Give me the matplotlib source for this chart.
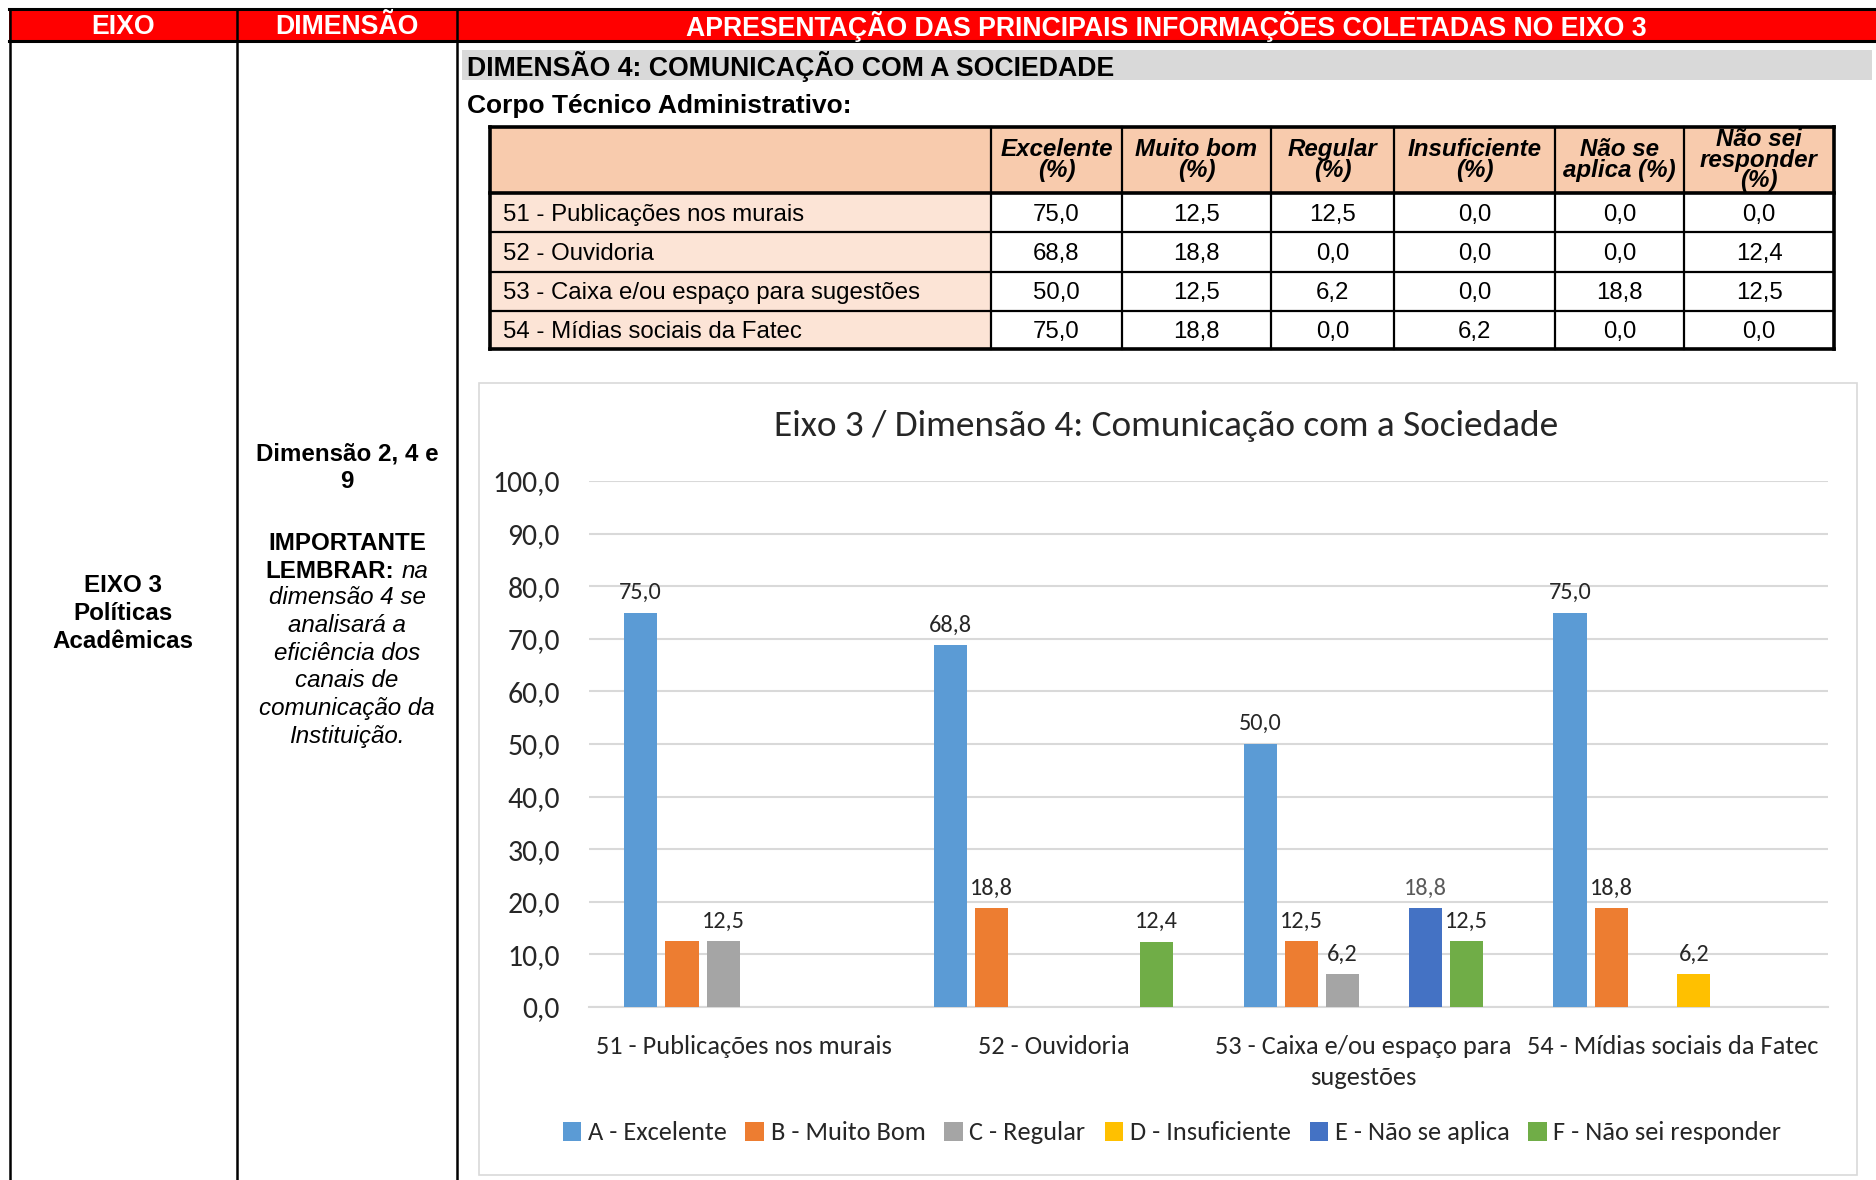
import matplotlib
matplotlib.use("Agg")
import matplotlib.pyplot as plt
from matplotlib.patches import Rectangle
from matplotlib.lines import Line2D
import numpy as np

# ---------------- data ----------------
categories = ["51 - Publicações nos murais", "52 - Ouvidoria",
              "53 - Caixa e/ou espaço para sugestões", "54 - Mídias sociais da Fatec"]
cat_tick_labels = ["51 - Publicações nos murais", "52 - Ouvidoria",
                   "53 - Caixa e/ou espaço para\nsugestões", "54 - Mídias sociais da Fatec"]
series_names = ["A - Excelente", "B - Muito Bom", "C - Regular", "D - Insuficiente",
                "E - Não se aplica", "F - Não sei responder"]
table_headers = ["Excelente\n(%)", "Muito bom\n(%)", "Regular\n(%)", "Insuficiente\n(%)",
                 "Não se\naplica (%)", "Não sei\nresponder\n(%)"]
excelente = [75.0, 68.8, 50.0, 75.0]
muito_bom = [12.5, 18.8, 12.5, 18.8]
regular = [12.5, 0.0, 6.2, 0.0]
insuficiente = [0.0, 0.0, 0.0, 6.2]
nao_se_aplica = [0.0, 0.0, 18.8, 0.0]
nao_sei = [0.0, 12.4, 12.5, 0.0]
series = [excelente, muito_bom, regular, insuficiente, nao_se_aplica, nao_sei]
# data labels removed in the original chart (series index, category index)
hidden_labels = [(1, 0)]
yticks = [0, 10, 20, 30, 40, 50, 60, 70, 80, 90, 100]

colors = ["#5B9BD5", "#ED7D31", "#A5A5A5", "#FFC000", "#4472C4", "#70AD47"]
label_colors = ["#262626", "#262626", "#262626", "#262626", "#595959", "#262626"]

W, H = 1876, 1180
fig = plt.figure(figsize=(W / 100, H / 100), dpi=100)
bg = fig.add_axes([0, 0, 1, 1])
bg.set_xlim(0, W)
bg.set_ylim(H, 0)
bg.axis("off")

ARIAL = ["Liberation Sans", "DejaVu Sans"]
CAL = ["Carlito", "Lato", "DejaVu Sans"]

# ---------------- header ----------------
bg.add_patch(Rectangle((9, 9), W - 9, 32, facecolor="#FF0000", edgecolor="none", zorder=1))
for y in (9, 41):
    bg.add_line(Line2D([9, W], [y, y], color="black", lw=2.2, zorder=3))
for x in (10, 237, 457):
    bg.add_line(Line2D([x, x], [9, H], color="black", lw=1.8, zorder=3))
for txt, cx in (("EIXO", 123), ("DIMENSÃO", 347),
                ("APRESENTAÇÃO DAS PRINCIPAIS INFORMAÇÕES COLETADAS NO EIXO 3", 1166)):
    bg.text(cx, 27, txt, ha="center", va="center", color="white", fontsize=19.2,
            fontweight="bold", family=ARIAL, zorder=4)

# left columns
FS = 17.4
for i, line in enumerate(["EIXO 3", "Políticas", "Acadêmicas"]):
    bg.text(123, 586 + i * 27.5, line, ha="center", va="center", fontsize=FS,
            fontweight="bold", family=ARIAL)
bg.text(347, 454, "Dimensão 2, 4 e", ha="center", va="center", fontsize=FS,
        fontweight="bold", family=ARIAL)
bg.text(347, 481, "9", ha="center", va="center", fontsize=FS, fontweight="bold", family=ARIAL)
bg.text(347, 543, "IMPORTANTE", ha="center", va="center", fontsize=FS,
        fontweight="bold", family=ARIAL)
# mixed line
renderer = fig.canvas.get_renderer()
t1 = bg.text(0, 571, "LEMBRAR:", ha="left", va="center", fontsize=FS, fontweight="bold", family=ARIAL)
t2 = bg.text(0, 571, "na", ha="left", va="center", fontsize=FS, fontstyle="italic", family=ARIAL)
w1 = t1.get_window_extent(renderer).width
w2 = t2.get_window_extent(renderer).width
gap = 7
x0 = 347 - (w1 + gap + w2) / 2
t1.set_x(x0)
t2.set_x(x0 + w1 + gap)
for i, line in enumerate(["dimensão 4 se", "analisará a", "eficiência dos", "canais de",
                          "comunicação da", "Instituição."]):
    bg.text(347, 598 + i * 27.6, line, ha="center", va="center", fontsize=FS,
            fontstyle="italic", family=ARIAL)

# grey band
bg.add_patch(Rectangle((462, 50), 1410, 30, facecolor="#D9D9D9", edgecolor="none"))
bg.text(467, 66, "DIMENSÃO 4: COMUNICAÇÃO COM A SOCIEDADE", ha="left", va="center",
        fontsize=19.2, fontweight="bold", family=ARIAL)
bg.text(467, 106, "Corpo Técnico Administrativo:", ha="left", va="center",
        fontsize=19, fontweight="bold", family=ARIAL)

# ---------------- table ----------------
col_x = [490, 991, 1122, 1271, 1394, 1555, 1684, 1834]
row_y = [127, 193, 232, 272, 311, 349]
bg.add_patch(Rectangle((col_x[0], row_y[0]), col_x[-1] - col_x[0], row_y[1] - row_y[0],
                       facecolor="#F8CBAD", edgecolor="none"))
for r in range(4):
    bg.add_patch(Rectangle((col_x[0], row_y[r + 1]), col_x[1] - col_x[0],
                           row_y[r + 2] - row_y[r + 1], facecolor="#FCE4D6", edgecolor="none"))
for y in row_y:
    lw = 2.6 if y in (127, 193, 349) else 1.6
    bg.add_line(Line2D([col_x[0], col_x[-1]], [y, y], color="black", lw=lw, zorder=3))
for x in col_x:
    lw = 2.6 if x in (490, 1834) else 1.6
    bg.add_line(Line2D([x, x], [row_y[0], row_y[-1]], color="black", lw=lw, zorder=3))
for j, hd in enumerate(table_headers):
    cell = Rectangle((col_x[j + 1], row_y[0] + 1), col_x[j + 2] - col_x[j + 1],
                     row_y[1] - row_y[0] - 2, transform=bg.transData, fill=False, edgecolor="none")
    bg.add_patch(cell)
    cx = (col_x[j + 1] + col_x[j + 2]) / 2
    t = bg.text(cx, 160, hd, ha="center", va="center", fontsize=17.4, fontweight="bold",
                fontstyle="italic", family=ARIAL, linespacing=0.84, zorder=2)
    t.set_clip_path(cell)
for r in range(4):
    cy = (row_y[r + 1] + row_y[r + 2]) / 2 + 2
    bg.text(col_x[0] + 13, cy, categories[r], ha="left", va="center", fontsize=17.3, family=ARIAL)
    for j in range(6):
        cx = (col_x[j + 1] + col_x[j + 2]) / 2
        bg.text(cx, cy, f"{series[j][r]:.1f}".replace(".", ","), ha="center", va="center",
                fontsize=17.3, family=ARIAL)

# ---------------- chart ----------------
bg.add_patch(Rectangle((479, 383), 1857 - 479, 1175 - 383, facecolor="none",
                       edgecolor="#D9D9D9", lw=1.2))
bg.text(1166, 426, "Eixo 3 / Dimensão 4: Comunicação com a Sociedade", ha="center",
        va="center", fontsize=26.8, family=CAL, color="#262626")

L, R, T, B = 589, 1828, 481, 1007
ax = fig.add_axes([L / W, 1 - B / H, (R - L) / W, (B - T) / H])
x = np.arange(len(categories))
step, width = 0.1332, 0.108
for i, (vals, c) in enumerate(zip(series, colors)):
    pos = x + (i - 2.5) * step
    ax.bar(pos, vals, width, color=c, zorder=3, label=series_names[i])
    for k, v in enumerate(vals):
        if v > 0 and (i, k) not in hidden_labels:
            ax.annotate(f"{v:.1f}".replace(".", ","), (pos[k], v), xytext=(0, 7),
                        textcoords="offset points", ha="center", va="bottom",
                        fontsize=17.5, family=CAL, color=label_colors[i], zorder=4)
ax.set_xlim(-0.5, 3.5)
ax.set_ylim(0, 100)
ax.set_yticks(yticks)
ax.set_yticklabels([f"{v:.1f}".replace(".", ",") for v in yticks], family=CAL,
                   fontsize=21.4, color="#262626")
ax.grid(axis="y", color="#D9D9D9", lw=1.5, zorder=0)
ax.set_xticks(x)
ax.set_xticklabels(cat_tick_labels, family=CAL, fontsize=19, color="#262626",
                   linespacing=1.42)
ax.tick_params(axis="both", length=0)
ax.tick_params(axis="y", pad=21)
ax.tick_params(axis="x", pad=20)
for s in ("top", "right", "left"):
    ax.spines[s].set_visible(False)
ax.spines["bottom"].set_color("#D9D9D9")
ax.spines["bottom"].set_linewidth(1.5)
ax.set_facecolor("none")

handles = [Rectangle((0, 0), 1, 1, facecolor=c, edgecolor="none") for c in colors]
fig.legend(handles, series_names, loc="center", bbox_to_anchor=(1172 / W, 1 - 1133 / H),
           ncol=6, frameon=False, prop={"family": CAL, "size": 19},
           handlelength=0.7, handleheight=0.7, handletextpad=0.25, columnspacing=0.72,
           labelcolor="#262626")

fig.savefig("out.png", dpi=100)
